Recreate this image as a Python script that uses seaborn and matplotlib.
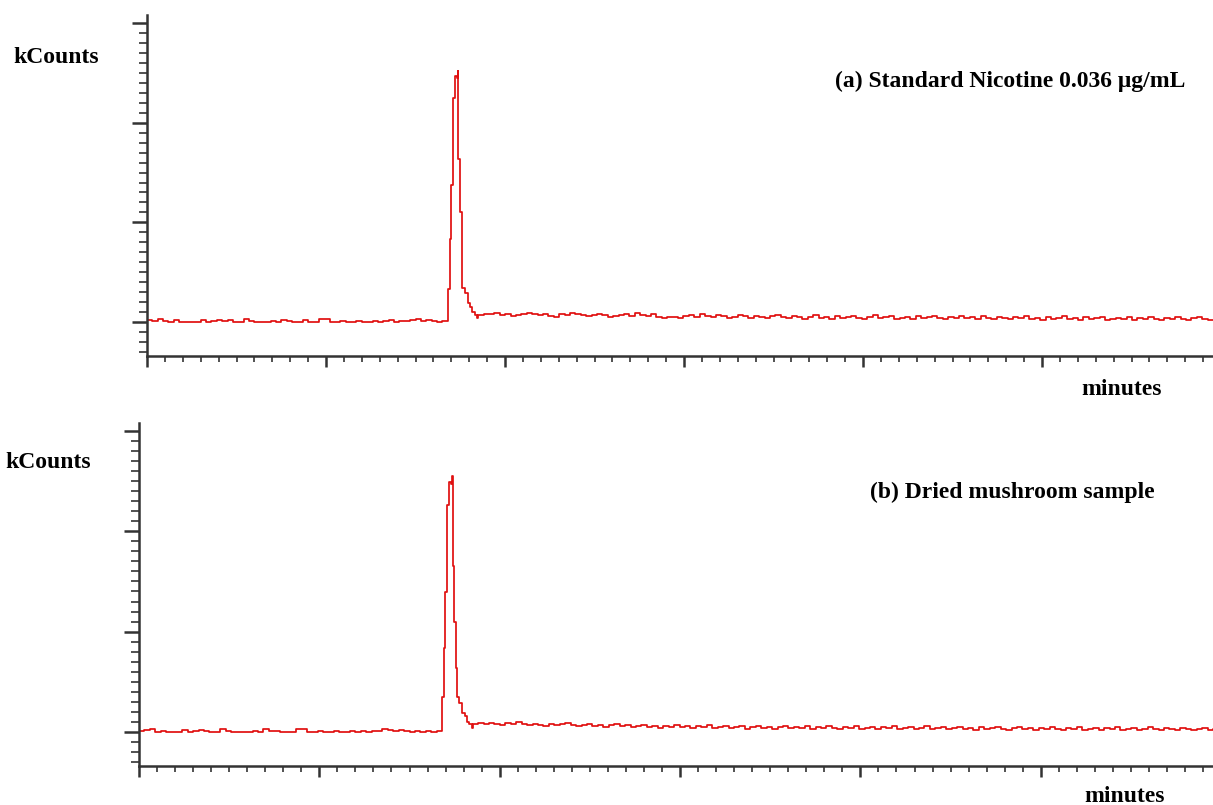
import numpy as np
import pandas as pd
import matplotlib
matplotlib.use("Agg")
import matplotlib.pyplot as plt
import seaborn as sns
from matplotlib.ticker import MultipleLocator, NullFormatter

# ---------------- data (minutes, kCounts) ----------------
x_max = 5.955

pre_a = [0.02, 0.01, 0.03, 0.01, 0.00, 0.02, 0.00, 0.00, 0.00, 0.00,
         0.02, 0.00, 0.01, 0.02, 0.01, 0.02, 0.00, 0.00, 0.03, 0.01,
         0.00, 0.00, 0.00, 0.01, 0.00, 0.02, 0.01, 0.00, 0.00, 0.02,
         0.00, 0.00, 0.03, 0.03, 0.00, 0.00, 0.01, 0.00, 0.00, 0.01,
         0.00, 0.00, 0.01, 0.00, 0.01, 0.02, 0.00, 0.01, 0.01, 0.02,
         0.03, 0.01, 0.02, 0.01, 0.00, 0.01]
peak_t = [1.680, 1.692, 1.698, 1.709, 1.721, 1.731, 1.735, 1.739, 1.749, 1.758,
          1.762, 1.777, 1.793, 1.805, 1.816, 1.830, 1.844]
peak_a = [0.33, 0.83, 1.37, 2.25, 2.47, 2.45, 2.52, 1.64, 1.10, 0.64,
          0.34, 0.29, 0.19, 0.15, 0.10, 0.07, 0.04]
post_a = [0.07, 0.08, 0.08, 0.09, 0.07, 0.08, 0.06, 0.07, 0.08, 0.09,
          0.08, 0.07, 0.08, 0.06, 0.05, 0.08, 0.07, 0.09, 0.08, 0.07,
          0.06, 0.07, 0.08, 0.07, 0.05, 0.06, 0.07, 0.08, 0.06, 0.09,
          0.07, 0.06, 0.08, 0.05, 0.04, 0.05, 0.05, 0.04, 0.06, 0.07,
          0.05, 0.08, 0.06, 0.05, 0.07, 0.06, 0.04, 0.05, 0.07, 0.06,
          0.04, 0.06, 0.05, 0.04, 0.06, 0.07, 0.05, 0.04, 0.06, 0.05,
          0.03, 0.05, 0.07, 0.04, 0.05, 0.03, 0.06, 0.04, 0.05, 0.06,
          0.04, 0.03, 0.05, 0.07, 0.04, 0.05, 0.06, 0.03, 0.04, 0.05,
          0.03, 0.06, 0.04, 0.05, 0.06, 0.04, 0.03, 0.05, 0.04, 0.06,
          0.04, 0.05, 0.03, 0.06, 0.04, 0.03, 0.05, 0.04, 0.03, 0.05,
          0.04, 0.06, 0.03, 0.04, 0.02, 0.05, 0.03, 0.04, 0.06, 0.03,
          0.04, 0.02, 0.05, 0.03, 0.04, 0.05, 0.02, 0.03, 0.04, 0.03,
          0.05, 0.02, 0.04, 0.03, 0.05, 0.03, 0.02, 0.04, 0.03, 0.05,
          0.03, 0.02, 0.04, 0.05, 0.03, 0.02, 0.02]

pre_b = [0.01, 0.02, 0.03, 0.00, 0.01, 0.00, 0.00, 0.00, 0.02, 0.00,
         0.01, 0.02, 0.01, 0.00, 0.00, 0.03, 0.01, 0.00, 0.00, 0.00,
         0.00, 0.01, 0.00, 0.03, 0.01, 0.01, 0.00, 0.00, 0.00, 0.03,
         0.03, 0.00, 0.00, 0.01, 0.00, 0.00, 0.01, 0.00, 0.00, 0.01,
         0.00, 0.01, 0.00, 0.01, 0.01, 0.03, 0.02, 0.01, 0.02, 0.01,
         0.00, 0.01, 0.00, 0.01, 0.00, 0.01]
peak_b = [0.35, 0.84, 1.39, 2.26, 2.49, 2.47, 2.55, 1.65, 1.10, 0.64,
          0.35, 0.29, 0.19, 0.16, 0.10, 0.08, 0.04]
post_b = [0.08, 0.09, 0.08, 0.09, 0.08, 0.07, 0.09, 0.08, 0.10, 0.08,
          0.07, 0.08, 0.07, 0.06, 0.08, 0.07, 0.08, 0.09, 0.07, 0.06,
          0.07, 0.08, 0.06, 0.07, 0.05, 0.07, 0.08, 0.06, 0.07, 0.05,
          0.06, 0.07, 0.05, 0.06, 0.04, 0.06, 0.05, 0.07, 0.05, 0.06,
          0.04, 0.06, 0.05, 0.07, 0.04, 0.05, 0.06, 0.04, 0.05, 0.06,
          0.03, 0.05, 0.06, 0.04, 0.05, 0.03, 0.05, 0.06, 0.04, 0.05,
          0.04, 0.06, 0.03, 0.05, 0.04, 0.06, 0.04, 0.03, 0.05, 0.04,
          0.06, 0.03, 0.04, 0.05, 0.03, 0.05, 0.04, 0.06, 0.03, 0.04,
          0.05, 0.03, 0.04, 0.06, 0.03, 0.04, 0.05, 0.03, 0.04, 0.05,
          0.03, 0.04, 0.02, 0.05, 0.03, 0.04, 0.05, 0.03, 0.02, 0.04,
          0.05, 0.03, 0.04, 0.02, 0.04, 0.03, 0.05, 0.03, 0.02, 0.04,
          0.03, 0.05, 0.02, 0.03, 0.04, 0.02, 0.04, 0.03, 0.05, 0.02,
          0.03, 0.04, 0.02, 0.03, 0.05, 0.03, 0.02, 0.04, 0.03, 0.02,
          0.04, 0.03, 0.02, 0.03, 0.04, 0.02, 0.03]

titles = ["(a) Standard Nicotine 0.036 \u03bcg/mL", "(b) Dried mushroom sample"]


def build(pre, peak, post):
    t_pre = np.linspace(0.0, peak_t[0], len(pre), endpoint=False)
    t_post = np.linspace(1.85, x_max, len(post))
    t = np.concatenate([t_pre, peak_t, t_post])
    y = np.concatenate([pre, peak, post])
    return pd.DataFrame({"minutes": t, "kCounts": y})


df_a = build(pre_a, peak_a, post_a)
df_b = build(pre_b, peak_b, post_b)

# ---------------- figure ----------------
sns.set_style("ticks")
plt.rcParams["font.family"] = ["Liberation Serif", "DejaVu Serif"]

W, H = 1213, 805
fig = plt.figure(figsize=(W / 100, H / 100), dpi=100)


def px_axes(left, top, right, bottom):
    return fig.add_axes([left / W, 1 - bottom / H, (right - left) / W, (bottom - top) / H])


ax_a = px_axes(147, 15, 1213, 356)
ax_b = px_axes(139, 423, 1213, 766)

for ax, df in ((ax_a, df_a), (ax_b, df_b)):
    sns.lineplot(data=df, x="minutes", y="kCounts", ax=ax, color="#e01010",
                 linewidth=1.25, drawstyle="steps-post", estimator=None, sort=False)
    ax.set_xlim(0, x_max)
    ax.set_ylim(-0.34, 3.08)
    sns.despine(ax=ax)
    for s in ("left", "bottom"):
        ax.spines[s].set_linewidth(1.8)
        ax.spines[s].set_color("#333333")
    ax.xaxis.set_major_locator(MultipleLocator(1.0))
    ax.xaxis.set_minor_locator(MultipleLocator(0.1))
    ax.yaxis.set_major_locator(MultipleLocator(1.0))
    ax.yaxis.set_minor_locator(MultipleLocator(0.1))
    ax.xaxis.set_major_formatter(NullFormatter())
    ax.yaxis.set_major_formatter(NullFormatter())
    ax.tick_params(axis="y", which="major", length=11, width=1.8, color="#333333", direction="out")
    ax.tick_params(axis="y", which="minor", length=6, width=1.2, color="#333333", direction="out")
    ax.tick_params(axis="x", which="major", length=8, width=1.8, color="#333333", direction="out")
    ax.tick_params(axis="x", which="minor", length=4, width=1.2, color="#333333", direction="out")
    ax.set_xlabel("")
    ax.set_ylabel("")
    ax.patch.set_alpha(0)

fs = 17
bold = dict(fontsize=fs, fontweight="bold", color="black")
fig.text(13 / W, 1 - 63 / H, "kCounts", ha="left", va="baseline", **bold)
fig.text(5 / W, 1 - 468 / H, "kCounts", ha="left", va="baseline", **bold)
fig.text(1185 / W, 1 - 87 / H, titles[0], ha="right", va="baseline", **bold)
fig.text(1155 / W, 1 - 498 / H, titles[1], ha="right", va="baseline", **bold)
fig.text(1162 / W, 1 - 395 / H, "minutes", ha="right", va="baseline", **bold)
fig.text(1165 / W, 1 - 802 / H, "minutes", ha="right", va="baseline", **bold)

fig.savefig("out.png", dpi=100)
